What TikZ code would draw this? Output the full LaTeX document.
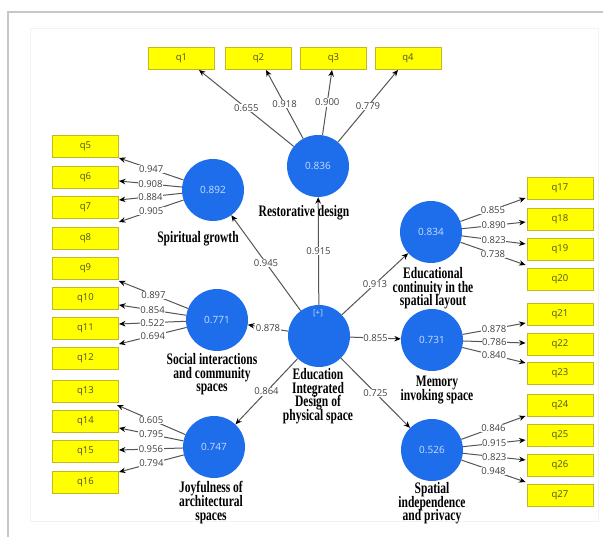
\documentclass[tikz,border=0pt]{standalone}
\usepackage{fontspec}
\usepackage{tikz}
\usetikzlibrary{positioning,calc}
\usetikzlibrary{arrows.meta}
\newfontfamily\valfont{Open Sans}
\newfontfamily\latfont[FakeStretch=0.72]{Liberation Serif}
\definecolor{PlsBlue}{RGB}{30,110,235}
\definecolor{LvText}{RGB}{200,222,255}
\definecolor{PlsYellow}{RGB}{255,255,0}
\definecolor{PlsGold}{RGB}{195,185,30}
\definecolor{PlsText}{RGB}{80,80,40}
\definecolor{LineGray}{RGB}{85,85,85}
\definecolor{ValGray}{RGB}{65,65,65}
\tikzset{
  lv/.style={circle,fill=PlsBlue,minimum size=62pt,inner sep=0pt,text=LvText,
    font={\valfont\fontsize{10}{11}\selectfont}},
  ind/.style={rectangle,draw=PlsGold,fill=PlsYellow,line width=0.9pt,minimum width=66pt,
    minimum height=22pt,inner sep=0pt,text=PlsText,font={\valfont\fontsize{9.5}{11}\selectfont}},
  link/.style={draw=LineGray,line width=1pt,-{Stealth[length=6.5pt,width=5.5pt,color=black]}},
  val/.style={fill=white,inner sep=0.6pt,text=ValGray,font={\valfont\fontsize{9.5}{11}\selectfont}},
}
\tikzset{nm/.style={anchor=north,inner sep=0pt,align=center,
    font={\latfont\bfseries\fontsize{16}{13.8}\selectfont\lineskiplimit=-20pt\lineskip=0pt}}}

\begin{document}
\begin{tikzpicture}[x=1pt,y=-1pt]
\useasboundingbox (0,0) rectangle (603,537);
\draw[black!22,line width=1.5pt] (8,537) -- (8,12) -- (603,12);
\draw[black!5,line width=0.8pt] (30,28) rectangle (598,521);
% latent variables
\node[lv] (ed) at (319,336) {};
\node[text=LvText,font={\valfont\fontsize{8}{9}\selectfont}] (edplus) at (318,313) {[+]};
\node[lv] (rd) at (318,166) {0.836};
\node[lv] (sg) at (213,190) {0.892};
\node[lv] (si) at (217,320) {0.771};
\node[lv] (jy) at (214,447) {0.747};
\node[lv] (ec) at (431,232) {0.834};
\node[lv] (mi) at (432,340) {0.731};
\node[lv] (sp) at (432,450) {0.526};
% indicators
\node[ind] (q1) at (181.5,58.5) {q1};
\node[ind] (q2) at (258.5,58.5) {q2};
\node[ind] (q3) at (333.5,58.5) {q3};
\node[ind] (q4) at (408,58.5) {q4};
\node[ind] (q5) at (85.5,146.5) {q5};
\node[ind] (q6) at (85.5,177) {q6};
\node[ind] (q7) at (85.5,207) {q7};
\node[ind] (q8) at (85.5,238) {q8};
\node[ind] (q9) at (85.5,268) {q9};
\node[ind] (q10) at (85.5,298) {q10};
\node[ind] (q11) at (85.5,328) {q11};
\node[ind] (q12) at (85.5,358) {q12};
\node[ind] (q13) at (85.5,391) {q13};
\node[ind] (q14) at (85.5,421) {q14};
\node[ind] (q15) at (85.5,451) {q15};
\node[ind] (q16) at (85.5,482) {q16};
\node[ind] (q17) at (560,188) {q17};
\node[ind] (q18) at (560,219) {q18};
\node[ind] (q19) at (560,249) {q19};
\node[ind] (q20) at (560,279) {q20};
\node[ind] (q21) at (560,314) {q21};
\node[ind] (q22) at (560,344) {q22};
\node[ind] (q23) at (560,373) {q23};
\node[ind] (q24) at (560,405) {q24};
\node[ind] (q25) at (560,435) {q25};
\node[ind] (q26) at (560,465) {q26};
\node[ind] (q27) at (560,495) {q27};
% inner model
\draw[link] (ed) -- (rd) node[val,midway] {0.915};
\draw[link] (ed) -- (sg) node[val,midway] {0.945};
\draw[link] (ed) -- (si) node[val,midway] {0.878};
\draw[link] (ed) -- (jy) node[val,midway] {0.864};
\draw[link] (ed) -- (ec) node[val,midway] {0.913};
\draw[link] (ed) -- (mi) node[val,midway] {0.855};
\draw[link] (ed) -- (sp) node[val,midway] {0.725};
% outer model
\draw[link] (rd) -- ($(q1.south)+(17.5,0)$) node[val,midway] {0.655};
\draw[link] (rd) -- ($(q2.south)+(7.5,0)$) node[val,midway] {0.918};
\draw[link] (rd) -- ($(q3.south)+(-1.5,0)$) node[val,midway] {0.900};
\draw[link] (rd) -- ($(q4.south)+(-10,0)$) node[val,midway] {0.779};
\draw[link] (sg) -- ($(q5.east)+(0,11.5)$) node[val,midway] {0.947};
\draw[link] (sg) -- ($(q6.east)+(0,4)$) node[val,midway] {0.908};
\draw[link] (sg) -- ($(q7.east)+(0,-7)$) node[val,midway] {0.884};
\draw[link] (sg) -- ($(q8.east)+(0,-16)$) node[val,midway] {0.905};
\draw[link] (si) -- ($(q9.east)+(0,13)$) node[val,midway] {0.897};
\draw[link] (si) -- ($(q10.east)+(0,7)$) node[val,midway] {0.854};
\draw[link] (si) -- ($(q11.east)+(0,-4)$) node[val,midway] {0.522};
\draw[link] (si) -- ($(q12.east)+(0,-14)$) node[val,midway] {0.694};
\draw[link] (jy) -- ($(q13.east)+(-2,14)$) node[val,midway] {0.605};
\draw[link] (jy) -- ($(q14.east)+(0,7)$) node[val,midway] {0.795};
\draw[link] (jy) -- ($(q15.east)+(0,-1)$) node[val,midway] {0.956};
\draw[link] (jy) -- ($(q16.east)+(0,-10)$) node[val,midway] {0.794};
\draw[link] (ec) -- ($(q17.west)+(-1,10)$) node[val,midway] {0.855};
\draw[link] (ec) -- ($(q18.west)+(-1,3)$) node[val,midway] {0.890};
\draw[link] (ec) -- ($(q19.west)+(-1,-5)$) node[val,midway] {0.823};
\draw[link] (ec) -- ($(q20.west)+(-1,-14)$) node[val,midway] {0.738};
\draw[link] (mi) -- ($(q21.west)+(-1,9)$) node[val,midway] {0.878};
\draw[link] (mi) -- ($(q22.west)+(-1,-1)$) node[val,midway] {0.786};
\draw[link] (mi) -- ($(q23.west)+(-1,-10)$) node[val,midway] {0.840};
\draw[link] (sp) -- ($(q24.west)+(-1,11)$) node[val,midway] {0.846};
\draw[link] (sp) -- ($(q25.west)+(-1,5)$) node[val,midway] {0.915};
\draw[link] (sp) -- ($(q26.west)+(-1,-5)$) node[val,midway] {0.823};
\draw[link] (sp) -- ($(q27.west)+(-1,-13)$) node[val,midway] {0.948};
% names
\node[nm] (rdname) at (304,205) {Restorative design};
\node[nm] (sgname) at (198,231) {Spiritual growth};
\node[nm] (siname) at (212,353) {Social interactions\\and community\\spaces};
\node[nm] (jyname) at (211,481) {Joyfulness of\\architectural\\spaces};
\node[nm] (edname) at (318,368) {Education\\Integrated\\Design of\\physical space};
\node[nm] (ecname) at (433,267) {Educational\\continuity in the\\spatial layout};
\node[nm] (miname) at (437,376) {Memory\\invoking space};
\node[nm] (spname) at (432,482) {Spatial\\independence\\and privacy};
\end{tikzpicture}
\end{document}
